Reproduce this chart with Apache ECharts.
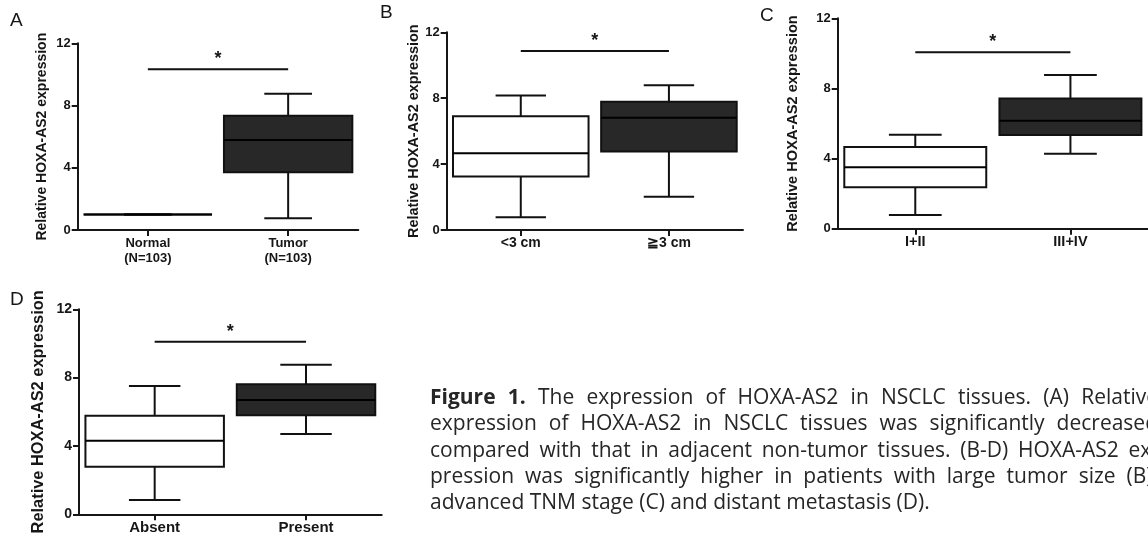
<!DOCTYPE html>
<html><head><meta charset="utf-8">
<script src="https://cdn.jsdelivr.net/npm/echarts@6/dist/echarts.min.js"></script>
<style>html,body{margin:0;padding:0;background:#fff}#c{width:1148px;height:538px}</style>
</head><body><div id="c"></div>
<script>
// ---------- data ----------
const catsA = ['Normal\n(N=103)', 'Tumor\n(N=103)'];
const boxA = [[1, 1, 1, 1, 1], [0.75, 3.71, 5.78, 7.35, 8.76]]; // min, q1, median, q3, max
const sigA = 10.33;
const catsB = ['<3 cm', '≧3 cm'];
const boxB = [[0.77, 3.24, 4.66, 6.90, 8.16], [2.02, 4.76, 6.82, 7.79, 8.78]];
const sigB = 10.87;
const catsC = ['I+II', 'III+IV'];
const boxC = [[0.78, 2.36, 3.50, 4.66, 5.36], [4.28, 5.35, 6.16, 7.42, 8.77]];
const sigC = 10.06;
const catsD = ['Absent', 'Present'];
const boxD = [[0.84, 2.79, 4.31, 5.77, 7.51], [4.70, 5.80, 6.69, 7.61, 8.76]];
const sigD = 10.10;
const yMin = 0, yMax = 12, yStep = 4;
const yName = 'Relative HOXA-AS2 expression';
const panelLetters = ['A', 'B', 'C', 'D'];
const captionLines = [
  'Figure 1. The expression of HOXA-AS2 in NSCLC tissues. (A) Relative',
  'expression of HOXA-AS2 in NSCLC tissues was significantly decreased',
  'compared with that in adjacent non-tumor tissues. (B-D) HOXA-AS2 ex-',
  'pression was significantly higher in patients with large tumor size (B),',
  'advanced TNM stage (C) and distant metastasis (D).'
];
const captionBoldWords = 2; // "Figure 1."

// ---------- layout ----------
const FF = '"Liberation Sans", Arial, sans-serif';
const INK = '#161616';
const layout = [
  {left: 77.7, top: 43.3, width: 280.6, height: 186.7, fs: 13, tfs: 13, nfs: 14, nameGap: 29, letter: [10, 21]},
  {left: 446.7, top: 32.3, width: 296.3, height: 197.7, fs: 14, tfs: 13, nfs: 14.4, nameGap: 26, letter: [380, 13]},
  {left: 837.7, top: 18.3, width: 313.3, height: 210.4, fs: 14.5, tfs: 13, nfs: 14.6, nameGap: 37, letter: [760, 16]},
  {left: 79, top: 309.3, width: 302.7, height: 205, fs: 15, tfs: 14, nfs: 16.4, nameGap: 33, letter: [10, 300]}
];
const panels = [
  {cats: catsA, box: boxA, sig: sigA},
  {cats: catsB, box: boxB, sig: sigB},
  {cats: catsC, box: boxC, sig: sigC},
  {cats: catsD, box: boxD, sig: sigD}
];

function boxRender(params, api) {
  const i = api.value(0);
  const band = api.size([1, 0])[0];
  const bw = band * 0.915 / 2, cw = band * 0.34 / 2;
  const pMin = api.coord([i, api.value(1)]);
  const pQ1 = api.coord([i, api.value(2)]);
  const pMed = api.coord([i, api.value(3)]);
  const pQ3 = api.coord([i, api.value(4)]);
  const pMax = api.coord([i, api.value(5)]);
  const cx = pQ1[0];
  const fill = i === 0 ? '#ffffff' : '#282828';
  const ls = {stroke: '#111', lineWidth: 2};
  return {type: 'group', children: [
    {type: 'line', shape: {x1: cx, y1: pQ3[1], x2: cx, y2: pMax[1]}, style: ls},
    {type: 'line', shape: {x1: cx, y1: pMin[1], x2: cx, y2: pQ1[1]}, style: ls},
    {type: 'line', shape: {x1: cx - cw, y1: pMax[1], x2: cx + cw, y2: pMax[1]}, style: ls},
    {type: 'line', shape: {x1: cx - cw, y1: pMin[1], x2: cx + cw, y2: pMin[1]}, style: ls},
    {type: 'rect', shape: {x: cx - bw, y: pQ3[1], width: 2 * bw, height: pQ1[1] - pQ3[1]}, style: {fill: fill, stroke: '#111', lineWidth: 2}},
    {type: 'line', shape: {x1: cx - bw, y1: pMed[1], x2: cx + bw, y2: pMed[1]}, style: {stroke: '#000', lineWidth: 2}}
  ]};
}
function sigRender(params, api) {
  const p0 = api.coord([api.value(0), api.value(2)]);
  const p1 = api.coord([api.value(1), api.value(2)]);
  return {type: 'group', children: [
    {type: 'line', shape: {x1: p0[0], y1: p0[1], x2: p1[0], y2: p1[1]}, style: {stroke: '#111', lineWidth: 2}},
    {type: 'text', x: (p0[0] + p1[0]) / 2, y: p0[1] - 10,
     style: {text: '*', font: 'bold 18px ' + FF, fill: INK, align: 'center', verticalAlign: 'middle'}}
  ]};
}

const grid = [], xAxis = [], yAxis = [], series = [], graphic = [];
panels.forEach((p, k) => {
  const L = layout[k];
  grid.push({left: L.left, top: L.top, width: L.width, height: L.height, containLabel: false});
  xAxis.push({
    type: 'category', gridIndex: k, data: p.cats, boundaryGap: true,
    axisLine: {show: true, lineStyle: {color: INK, width: 2}},
    axisTick: {show: true, alignWithLabel: true, length: 6, lineStyle: {color: INK, width: 2}},
    axisLabel: {color: INK, fontWeight: 'bold', fontSize: L.fs, fontFamily: FF, margin: 6, lineHeight: 15, interval: 0},
    splitLine: {show: false}
  });
  yAxis.push({
    type: 'value', gridIndex: k, min: yMin, max: yMax, interval: yStep,
    name: yName, nameLocation: 'middle', nameGap: L.nameGap, nameRotate: 90,
    nameTextStyle: {color: INK, fontWeight: 'bold', fontSize: L.nfs, fontFamily: FF},
    axisLine: {show: true, lineStyle: {color: INK, width: 2}},
    axisTick: {show: true, length: 6, lineStyle: {color: INK, width: 2}},
    axisLabel: {color: INK, fontWeight: 'bold', fontSize: L.tfs, fontFamily: FF, margin: 7},
    splitLine: {show: false}
  });
  series.push({
    type: 'custom', xAxisIndex: k, yAxisIndex: k, renderItem: boxRender, clip: false,
    encode: {x: 0, y: [1, 2, 3, 4, 5]},
    data: p.box.map((v, i) => [i].concat(v)), silent: true
  });
  series.push({
    type: 'custom', xAxisIndex: k, yAxisIndex: k, renderItem: sigRender, clip: false,
    encode: {x: [0, 1], y: 2},
    data: [[0, 1, p.sig]], silent: true
  });
  graphic.push({type: 'text', x: L.letter[0], y: L.letter[1],
    style: {text: panelLetters[k], font: '19px ' + FF, fill: INK, verticalAlign: 'middle'}});
});

// caption with justified lines
const capSize = 21;
const capFam = '"Open Sans", "Liberation Sans", sans-serif';
const capX0 = 430, capX1 = 1158;
const capBase = [405, 431.3, 457.6, 483.9, 510.2];
const mctx = document.createElement('canvas').getContext('2d');
function mw(t, f) { mctx.font = f; return mctx.measureText(t).width; }
captionLines.forEach((line, li) => {
  const words = line.split(' ');
  const fonts = words.map((w, wi) => (li === 0 && wi < captionBoldWords ? 'bold ' : '') + capSize + 'px ' + capFam);
  const widths = words.map((w, wi) => mw(w, fonts[wi]));
  const total = widths.reduce((a, b) => a + b, 0);
  let gap = mw(' ', capSize + 'px ' + capFam);
  if (li < captionLines.length - 1) gap = (capX1 - capX0 - total) / (words.length - 1);
  let x = capX0;
  words.forEach((w, wi) => {
    graphic.push({type: 'text', x: x, y: capBase[li] - 7,
      style: {text: w, font: fonts[wi], fill: '#262626', verticalAlign: 'middle'}});
    x += widths[wi] + gap;
  });
});

const chart = echarts.init(document.getElementById('c'), null, {renderer: 'canvas'});
chart.setOption({
  animation: false, backgroundColor: '#ffffff',
  grid: grid, xAxis: xAxis, yAxis: yAxis, series: series, graphic: graphic
});
</script></body></html>
